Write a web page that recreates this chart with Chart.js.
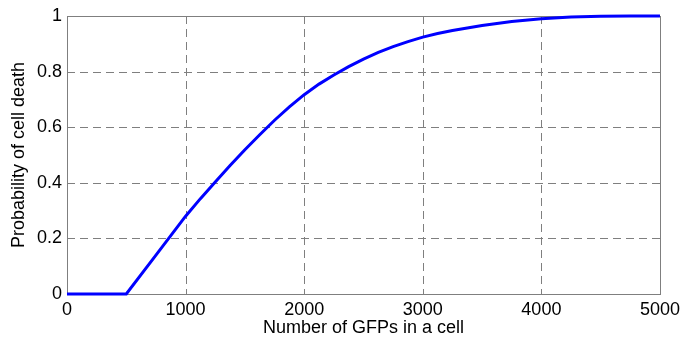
<!DOCTYPE html>
<html>
<head>
<meta charset="utf-8">
<script src="https://cdn.jsdelivr.net/npm/chart.js@4"></script>
<style>
  html, body { margin: 0; padding: 0; background: #fff; }
  #wrap { width: 685px; height: 339px; }
</style>
</head>
<body>
<div id="wrap"><canvas id="deathChart" width="685" height="339"></canvas></div>
<script>
// số GFP trong tế bào
const gfpCounts = [0, 250, 500, 750, 1000, 1125, 1250, 1375, 1500, 1625, 1750, 1875,
                   2000, 2125, 2250, 2375, 2500, 2625, 2750, 2875, 3000, 3125, 3250,
                   3500, 3750, 4000, 4250, 4500, 4750, 5000];
// xác suất chết của tế bào
const deathProb = [0, 0, 0, 0.14, 0.28, 0.343, 0.403, 0.462, 0.519, 0.573, 0.625, 0.673,
                   0.717, 0.755, 0.788, 0.818, 0.845, 0.869, 0.89, 0.908, 0.924, 0.937, 0.948,
                   0.966, 0.98, 0.99, 0.996, 0.999, 1, 1];
const xTicks = [0, 1000, 2000, 3000, 4000, 5000];
const yTicks = [0, 0.2, 0.4, 0.6, 0.8, 1];

const points = gfpCounts.map((x, i) => ({ x: x, y: deathProb[i] }));
const axisFont = { family: 'Liberation Sans, Arial, sans-serif', size: 18 };

// lưới nét đứt, khung và vạch chia hướng vào trong
const framePlugin = {
    id: 'frame',
    beforeDatasetsDraw(chart) {
        const ctx = chart.ctx, a = chart.chartArea;
        const xs = chart.scales.x, ys = chart.scales.y;
        ctx.save();
        ctx.strokeStyle = '#7f7f7f';
        ctx.lineWidth = 1;

        // lưới
        ctx.setLineDash([8, 5]);
        ctx.beginPath();
        xTicks.slice(1, -1).forEach(v => {
            const px = Math.round(xs.getPixelForValue(v)) + 0.5;
            ctx.moveTo(px, a.top); ctx.lineTo(px, a.bottom);
        });
        yTicks.slice(1, -1).forEach(v => {
            const py = Math.round(ys.getPixelForValue(v)) + 0.5;
            ctx.moveTo(a.left, py); ctx.lineTo(a.right, py);
        });
        ctx.stroke();

        // khung
        ctx.setLineDash([]);
        ctx.strokeRect(Math.round(a.left) + 0.5, Math.round(a.top) + 0.5,
                       Math.round(a.right - a.left), Math.round(a.bottom - a.top));
        ctx.beginPath();
        xTicks.forEach(v => {
            const px = Math.round(xs.getPixelForValue(v)) + 0.5;
            ctx.moveTo(px, a.bottom); ctx.lineTo(px, a.bottom - 5);
            ctx.moveTo(px, a.top); ctx.lineTo(px, a.top + 5);
        });
        yTicks.forEach(v => {
            const py = Math.round(ys.getPixelForValue(v)) + 0.5;
            ctx.moveTo(a.left, py); ctx.lineTo(a.left + 5, py);
            ctx.moveTo(a.right, py); ctx.lineTo(a.right - 5, py);
        });
        ctx.stroke();
        ctx.restore();
    }
};

const ctx = document.getElementById('deathChart').getContext('2d');
const deathChart = new Chart(ctx, {
    type: 'line',
    data: {
        datasets: [{
            data: points,
            borderColor: '#0000ff',
            borderWidth: 3,
            pointRadius: 0,
            tension: 0,
            fill: false,
            clip: 4
        }]
    },
    options: {
        responsive: false,
        animation: false,
        layout: { padding: { top: 16, right: 23, left: 0, bottom: 0 } },
        plugins: {
            legend: { display: false },
            tooltip: { enabled: false }
        },
        scales: {
            x: {
                type: 'linear',
                min: 0,
                max: 5000,
                afterBuildTicks: s => { s.ticks = xTicks.map(v => ({ value: v })); },
                afterFit: s => { s.height = 45; },
                grid: { display: false, drawTicks: false },
                border: { display: false },
                ticks: {
                    color: '#000',
                    padding: 5,
                    maxRotation: 0,
                    callback: v => String(v),
                    font: axisFont
                },
                title: {
                    display: true,
                    text: 'Number of GFPs in a cell',
                    color: '#000',
                    padding: { top: 0, bottom: 0 },
                    font: axisFont
                }
            },
            y: {
                min: 0,
                max: 1,
                afterBuildTicks: s => { s.ticks = yTicks.map(v => ({ value: v })); },
                afterFit: s => { s.width = 67; },
                grid: { display: false, drawTicks: false },
                border: { display: false },
                ticks: {
                    color: '#000',
                    padding: 5,
                    callback: v => String(Math.round(v * 10) / 10),
                    font: axisFont
                },
                title: {
                    display: true,
                    text: 'Probability of cell death',
                    color: '#000',
                    padding: { top: 8, bottom: 0 },
                    font: axisFont
                }
            }
        }
    },
    plugins: [framePlugin]
});
</script>
</body>
</html>
